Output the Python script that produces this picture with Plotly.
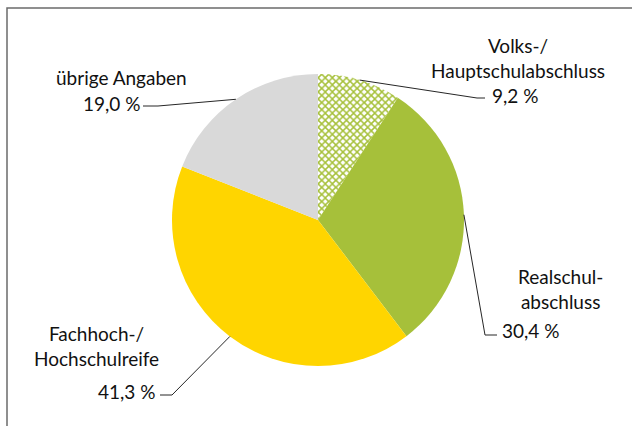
import math
import plotly.graph_objects as go

# Educational attainment shares (percent), clockwise from 12 o'clock
categories = ["Volks-/<br>Hauptschulabschluss", "Realschul-<br>abschluss",
              "Fachhoch-/<br>Hochschulreife", "übrige Angaben"]
shares = [9.2, 30.4, 41.3, 19.0]
value_labels = ["9,2 %", "30,4 %", "41,3 %", "19,0 %"]

colors = ["#FFFFFF", "#A6C03A", "#FFD500", "#D9D9D9"]
patterns = ["x", "", "", ""]
pattern_fg = ["#A6C03A", "#A6C03A", "#FFD500", "#D9D9D9"]

W, H = 632, 426
CX, CY, R = 318, 220, 146  # pie centre and radius in pixels

FONT = "Lato"
FS = 19

# Label layout: (name x, name y, value x, value y, elbow, end of leader)
label_layout = [
    dict(nx=518, ny=58, vx=515, vy=95, elbow=(477, 98), end=(485, 98)),
    dict(nx=560, ny=289, vx=530, vy=330, elbow=(485, 335), end=(497, 335)),
    dict(nx=96, ny=346, vx=126, vy=391, elbow=(172, 395), end=(160, 395)),
    dict(nx=121, ny=78, vx=111, vy=104, elbow=(158, 106), end=(143, 106)),
]


def px(x):
    return x / W


def py(y):
    return 1 - y / H


fig = go.Figure(go.Pie(
    labels=categories,
    values=shares,
    sort=False,
    direction="clockwise",
    rotation=0,
    textinfo="none",
    hoverinfo="label+percent",
    showlegend=False,
    marker=dict(
        colors=colors,
        line=dict(width=0),
        pattern=dict(shape=patterns, fgcolor=pattern_fg, bgcolor=colors,
                     size=5, solidity=0.5, fillmode="replace"),
    ),
    domain=dict(x=[px(CX - R), px(CX + R)], y=[py(CY + R), py(CY - R)]),
))

shapes = []
annotations = []
total = sum(shares)
cum = 0.0
for name, val, vlab, lay in zip(categories, shares, value_labels, label_layout):
    mid = (cum + val / 2) / total * 2 * math.pi
    cum += val
    ex = CX + R * math.sin(mid)
    ey = CY - R * math.cos(mid)
    bx, by = lay["elbow"]
    tx, ty = lay["end"]
    shapes.append(dict(
        type="path", xref="paper", yref="paper",
        path=f"M {px(ex)} {py(ey)} L {px(bx)} {py(by)} L {px(tx)} {py(ty)}",
        line=dict(color="#262626", width=1),
    ))
    annotations.append(dict(
        x=px(lay["nx"]), y=py(lay["ny"]), xref="paper", yref="paper",
        text=name, showarrow=False, align="center",
        xanchor="center", yanchor="middle",
        font=dict(family=FONT, size=FS, color="#111111"),
    ))
    annotations.append(dict(
        x=px(lay["vx"]), y=py(lay["vy"]), xref="paper", yref="paper",
        text=vlab, showarrow=False,
        xanchor="center", yanchor="middle",
        font=dict(family=FONT, size=FS, color="#111111"),
    ))

# Chart frame (top and left edges visible)
shapes.append(dict(
    type="path", xref="paper", yref="paper",
    path=f"M {px(7)} {py(H + 20)} L {px(7)} {py(8)} L {px(W + 20)} {py(8)}",
    line=dict(color="#6b6b6b", width=1.5),
))

fig.update_layout(
    width=W, height=H,
    margin=dict(l=0, r=0, t=0, b=0),
    paper_bgcolor="white",
    plot_bgcolor="white",
    shapes=shapes,
    annotations=annotations,
)

fig.write_html("out.html")
